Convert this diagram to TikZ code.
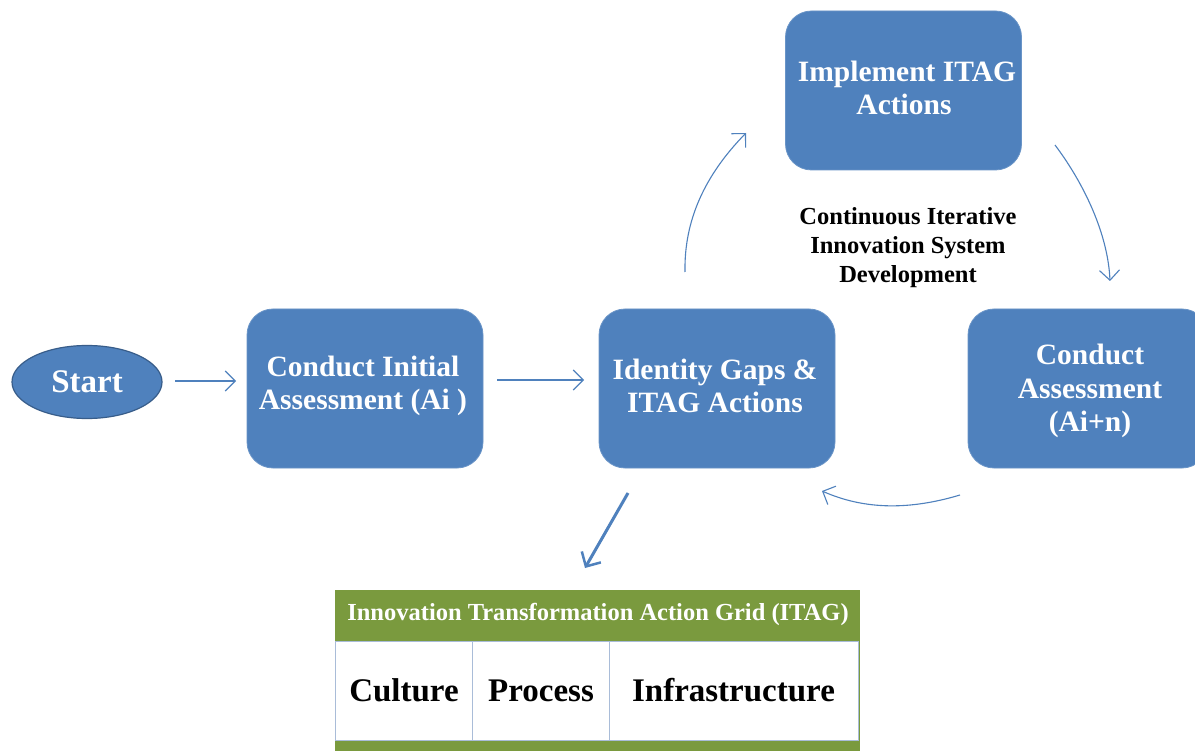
\documentclass[tikz,border=0pt]{standalone}
\usepackage{fontspec}
\setmainfont{Liberation Serif}
\usetikzlibrary{arrows.meta,shapes.geometric}
\definecolor{boxblue}{HTML}{4F81BD}
\definecolor{edgeblue}{HTML}{385D8A}
\definecolor{itaggreen}{HTML}{7A9A3E}
\definecolor{gridline}{HTML}{A9BCD8}
\begin{document}
\begin{tikzpicture}[x=1pt,y=-1pt,
  stepbox/.style={draw=boxblue!85!white,line width=0.8pt,fill=boxblue,rounded corners=26pt,
    minimum width=236pt,minimum height=159pt,text=white,align=center,
    font=\fontsize{29.5}{33.5}\selectfont\bfseries,inner sep=0pt},
  flow/.style={draw=boxblue,line width=1.1pt,-{Straight Barb[length=10pt,width=20pt,line width=1.1pt]}},
  cell/.style={draw=gridline,line width=0.8pt,fill=white,minimum height=99pt,inner sep=0pt,
    font=\fontsize{33}{36}\selectfont\bfseries}
]
\useasboundingbox (0,0) rectangle (1195,751);
\fill[white] (0,0) rectangle (1195,751);

\node[ellipse,draw=edgeblue,line width=1.2pt,fill=boxblue,minimum width=150pt,minimum height=73pt,
  text=white,font=\fontsize{33}{36}\selectfont\bfseries,inner sep=0pt] (start) at (87,382) {Start};

\node[stepbox] (ca) at (365,388.5) {};
\node[text=white,align=center,font=\fontsize{29.5}{33.5}\selectfont\bfseries] (cat) at (363,386) {Conduct Initial\\Assessment (Ai )};
\node[stepbox] (ig) at (717,388.5) {};
\node[text=white,align=center,font=\fontsize{29.5}{33.5}\selectfont\bfseries] (igt) at (715,386) {Identity Gaps \&\\ITAG Actions};
\node[stepbox,minimum width=240pt] (cn) at (1088,388.5) {};
\node[text=white,align=center,font=\fontsize{29.5}{33.5}\selectfont\bfseries] (cnt) at (1090,391) {Conduct\\Assessment\\(Ai+n)};
\node[stepbox] (im) at (903.5,90.5) {};
\node[text=white,align=center,font=\fontsize{29.5}{33.5}\selectfont\bfseries] (imt) at (907,88) {Implement ITAG\\\hspace*{-6pt}Actions};

\node[align=center,font=\fontsize{24.5}{29}\selectfont\bfseries] (cont) at (908,248) {Continuous Iterative\\Innovation System\\Development};

% ITAG grid
\fill[itaggreen] (335,590) rectangle (860,751);
\node[text=white,font=\fontsize{24.5}{28}\selectfont\bfseries,inner sep=0pt] (grid) at (598,614) {Innovation Transformation Action Grid (ITAG)};
\node[cell,minimum width=137pt] (cul) at (404,690.5) {Culture};
\node[cell,minimum width=137pt] (pro) at (541,690.5) {Process};
\node[cell,minimum width=249pt] (inf) at (733.5,690.5) {Infrastructure};

% connector end points
\coordinate (s1) at (175,381);
\coordinate (s2) at (236,381);
\coordinate (a1) at (497,380);
\coordinate (a2) at (584,380);
\coordinate (u1) at (685,272);
\coordinate (u2) at (746,133);
\coordinate (r1) at (1055,145);
\coordinate (r2) at (1110,281);
\coordinate (b1) at (960,495);
\coordinate (b2) at (822,491);
\coordinate (d1) at (628,493);
\coordinate (d2) at (585,568);

\draw[flow] (s1) -- (s2);
\draw[flow] (a1) -- (a2);
\draw[flow] (u1) .. controls (684,220) and (705,175) .. (u2);
\draw[flow] (r1) .. controls (1085,185) and (1108,235) .. (r2);
\draw[flow] (b1) .. controls (910,510) and (865,510) .. (b2);
\draw[draw=boxblue,line width=3pt,-{Straight Barb[length=11pt,width=22pt,line width=2.5pt]}] (d1) -- (d2);
\end{tikzpicture}
\end{document}
